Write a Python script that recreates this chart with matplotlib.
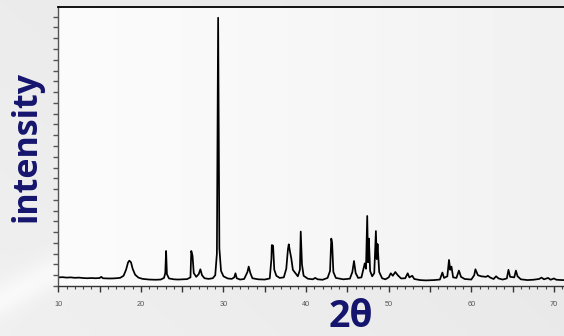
import numpy as np
import matplotlib
matplotlib.use("Agg")
import matplotlib.pyplot as plt
from matplotlib.ticker import MultipleLocator, FuncFormatter

# Powder diffraction pattern, sampled as (2theta, intensity) vertices
two_theta = [
    10.0, 10.5, 11.0, 11.5, 12.0, 12.5, 13.0, 13.5, 14.0, 14.5, 15.0, 15.2, 15.4,
    16.0, 16.5, 17.0, 17.5, 17.9, 18.2, 18.45, 18.6, 18.8, 19.0, 19.3, 19.7,
    20.2, 21.0, 21.8, 22.4, 22.8, 22.95, 23.05, 23.15, 23.4, 24.0, 24.5, 25.0,
    25.6, 26.0, 26.1, 26.25, 26.4, 26.7, 27.0, 27.2, 27.4, 27.7, 28.2, 28.7,
    29.0, 29.2, 29.35, 29.5, 29.7, 30.0, 30.5, 31.0, 31.3, 31.45, 31.6, 32.0,
    32.5, 32.9, 33.05, 33.25, 33.5, 34.2, 35.0, 35.6, 35.8, 35.85, 36.0, 36.15,
    36.4, 36.8, 37.3, 37.6, 37.8, 37.9, 38.05, 38.2, 38.4, 38.7, 39.0, 39.25,
    39.35, 39.5, 39.7, 40.2, 40.8, 41.1, 41.4, 42.0, 42.6, 42.9, 43.05, 43.15,
    43.3, 43.6, 44.5, 45.3, 45.6, 45.8, 46.0, 46.3, 46.7, 46.95, 47.1, 47.25,
    47.4, 47.5, 47.6, 47.75, 48.0, 48.25, 48.45, 48.55, 48.65, 48.85, 49.2,
    49.6, 50.0, 50.25, 50.5, 50.8, 51.1, 51.5, 52.0, 52.3, 52.5, 52.85, 53.1,
    53.8, 54.5, 55.5, 56.2, 56.5, 56.7, 57.1, 57.3, 57.45, 57.6, 57.8, 58.2,
    58.5, 58.75, 59.2, 60.0, 60.35, 60.5, 60.8, 61.2, 61.8, 62.0, 62.3, 62.7,
    63.0, 63.3, 63.8, 64.3, 64.5, 64.7, 65.2, 65.4, 65.6, 66.0, 66.8, 67.5,
    68.2, 68.5, 68.8, 69.3, 69.6, 70.0, 70.3, 71.0, 71.5,
]
intensity = [
    0.80, 0.82, 0.78, 0.80, 0.76, 0.78, 0.74, 0.72, 0.74, 0.72, 0.74, 0.85, 0.72,
    0.70, 0.70, 0.72, 0.76, 0.95, 1.50, 2.20, 2.35, 2.20, 1.60, 1.05, 0.78,
    0.66, 0.60, 0.58, 0.60, 0.75, 1.20, 3.25, 1.10, 0.70, 0.62, 0.60, 0.62,
    0.64, 0.80, 3.25, 2.80, 1.20, 0.85, 1.10, 1.55, 1.00, 0.72, 0.66, 0.72,
    1.00, 3.00, 24.9, 3.50, 1.40, 0.90, 0.70, 0.66, 0.80, 1.18, 0.72, 0.60,
    0.65, 1.30, 1.80, 1.20, 0.72, 0.62, 0.60, 0.70, 2.50, 3.80, 3.75, 1.50,
    0.95, 0.75, 0.80, 1.60, 3.40, 3.87, 3.20, 2.60, 1.50, 1.20, 0.90, 1.50,
    5.05, 2.00, 0.95, 0.68, 0.62, 0.75, 0.62, 0.58, 0.75, 1.40, 4.40, 4.00,
    1.30, 0.75, 0.62, 0.68, 1.30, 2.32, 1.20, 0.75, 0.80, 1.60, 2.10, 1.60,
    6.50, 2.20, 4.40, 1.40, 0.90, 1.20, 5.10, 2.50, 3.90, 1.30, 0.72,
    0.62, 0.80, 1.18, 0.95, 1.30, 1.00, 0.70, 0.72, 1.18, 0.80, 0.95, 0.65,
    0.55, 0.52, 0.55, 0.60, 1.25, 0.75, 0.90, 2.42, 1.50, 1.80, 0.80, 0.75,
    1.43, 0.85, 0.65, 0.60, 1.00, 1.55, 1.00, 0.90, 0.85, 0.95, 0.78, 0.65,
    0.90, 0.70, 0.60, 0.70, 1.50, 0.85, 0.80, 1.43, 0.90, 0.62, 0.55, 0.58,
    0.65, 0.78, 0.62, 0.75, 0.58, 0.70, 0.58, 0.55, 0.55,
]

x_tick_labels = ["10", "20", "30", "40", "50", "60", "70"]

W, H = 564, 336
fig = plt.figure(figsize=(W / 100, H / 100), dpi=100)

# faded backdrop: smooth grey field, lighter inside the plotting frame
bg = fig.add_axes([0, 0, 1, 1], zorder=-10)
yy, xx = np.mgrid[0:H, 0:W].astype(float)
field = 236 - 6 * (xx / W) + 4 * (yy / H)
streak = np.exp(-((xx * 0.55 + yy * 1.0 - 300) / 18.0) ** 2) * 10
field += streak * (yy > 150)
inside = (xx > 58) & (yy > 7) & (yy < 286)
field[inside] = 252 - 11 * (xx[inside] / W) ** 1.5
field = np.clip(field, 0, 255) / 255.0
bg.imshow(np.dstack([field] * 3), aspect="auto", extent=[0, W, H, 0])
bg.set_axis_off()

ax = fig.add_axes([58.3 / W, 50 / H, 70 * 8.26 / W, 279 / H])
ax.patch.set_alpha(0)
ax.plot(two_theta, intensity, color="black", lw=1.25)
ax.set_xlim(10, 80)
ax.set_ylim(0, 25.9)

ax.spines["right"].set_visible(False)
ax.spines["top"].set_color("black")
ax.spines["top"].set_linewidth(1.3)
ax.spines["left"].set_color("#555555")
ax.spines["left"].set_linewidth(1.0)
ax.spines["bottom"].set_color("#333333")
ax.spines["bottom"].set_linewidth(1.0)

ax.xaxis.set_major_locator(MultipleLocator(5))
ax.xaxis.set_minor_locator(MultipleLocator(1))
ax.xaxis.set_major_formatter(FuncFormatter(
    lambda v, p: x_tick_labels[int(round(v / 10)) - 1]
    if abs(v % 10) < 1e-6 and 1 <= round(v / 10) <= len(x_tick_labels) else ""))
ax.tick_params(axis="x", which="major", direction="out", length=4.2, width=1.0,
               color="#333333", labelsize=5.3, labelcolor="#555555", pad=6.8)
ax.tick_params(axis="x", which="minor", direction="out", length=2.0, width=0.8,
               color="#444444")
for lab in ax.get_xticklabels():
    lab.set_family("Liberation Sans")

ax.yaxis.set_major_locator(MultipleLocator(1))
ax.tick_params(axis="y", which="major", direction="out", length=3.8, width=1.0,
               color="#555555", labelleft=False)

navy = "#15156e"
fig.text(26 / W, 1 - 146.5 / H, "intensity", rotation=90, ha="center", va="center",
         fontsize=24.5, fontweight="bold", family="Open Sans", color=navy)
fig.text(351 / W, 1 - 317 / H, "2θ", ha="center", va="center",
         fontsize=27, fontweight="bold", family="Open Sans", color=navy)

fig.savefig("out.png", dpi=100)
